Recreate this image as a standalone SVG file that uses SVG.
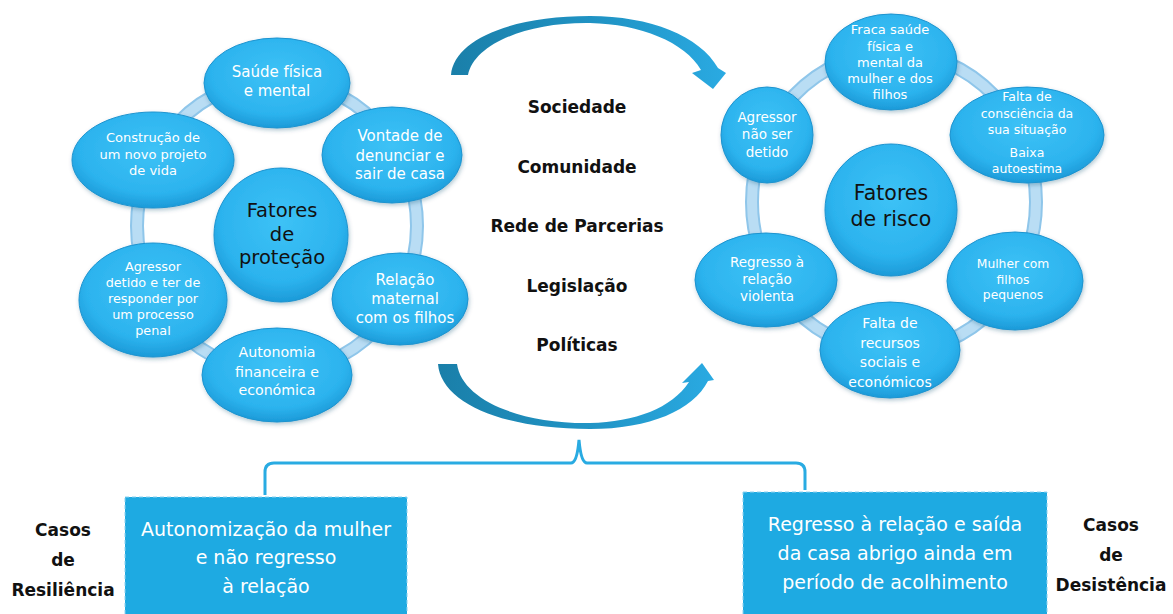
<svg xmlns="http://www.w3.org/2000/svg" width="1173" height="614" viewBox="0 0 1173 614">
<defs>
<radialGradient id="gN" cx="50%" cy="40%" r="60%">
<stop offset="0" stop-color="#3dc2f6"/>
<stop offset="0.75" stop-color="#2cb3ee"/>
<stop offset="1" stop-color="#1c9ad8"/>
</radialGradient>
<linearGradient id="gTop" x1="0" y1="0" x2="1" y2="0">
<stop offset="0" stop-color="#1a7fa9"/>
<stop offset="0.6" stop-color="#2196c8"/>
<stop offset="1" stop-color="#2aaae2"/>
</linearGradient>
<linearGradient id="gBot" x1="0" y1="0" x2="1" y2="0">
<stop offset="0" stop-color="#1a7fa9"/>
<stop offset="0.6" stop-color="#2196c8"/>
<stop offset="1" stop-color="#2aaae2"/>
</linearGradient>
<filter id="sh" x="-20%" y="-20%" width="140%" height="150%">
<feDropShadow dx="1" dy="2" stdDeviation="2" flood-color="#0a4a6a" flood-opacity="0.3"/>
</filter>
</defs>
<style>
.node{fill:url(#gN);stroke:#1d93cf;stroke-width:1;filter:url(#sh)}
.ringo{fill:none;stroke:#8fc6ea;stroke-width:14}
.ringi{fill:none;stroke:#b9ddf4;stroke-width:10}
.t{font-family:"DejaVu Sans","Liberation Sans",sans-serif;fill:#ffffff;text-anchor:middle}
.c{font-family:"DejaVu Sans","Liberation Sans",sans-serif;fill:#111111;text-anchor:middle}
.b{font-family:"DejaVu Sans","Liberation Sans",sans-serif;font-weight:bold;fill:#111111;text-anchor:middle}
.box{fill:#1eaae2;stroke:#8cd2f0;stroke-width:1;stroke-dasharray:4 3}
.brace{fill:none;stroke:#29abe2;stroke-width:3}
</style>
<rect width="1173" height="614" fill="#ffffff"/>

<g id="connectors">
<ellipse class="ringo" cx="277" cy="226" rx="140" ry="146"/>
<ellipse class="ringi" cx="277" cy="226" rx="140" ry="146"/>
<ellipse class="ringo" cx="894" cy="202" rx="142" ry="150"/>
<ellipse class="ringi" cx="894" cy="202" rx="142" ry="150"/>
<path fill="url(#gTop)" d="M451,75 C454,40 510,16 590,16 C650,16 700,36 718,68 L726,73 L713,89 L692,73 L701,70 C685,42 640,24 590,23 C525,22 474,45 468,75 Z"/>
<path fill="url(#gBot)" d="M438,364 C441,402 500,429 590,429 C650,429 693,410 708,381 L714,380 L702,363 L682,383 L689,382 C672,408 635,422 590,423 C520,424 462,400 457,364 Z"/>
<path class="brace" d="M265,495 L265,472 Q265,463 274,463 L571,463 Q577,463 579,440 Q581,463 587,463 L796,463 Q805,463 805,472 L805,490"/>
</g>

<g id="protecao-centro">
<circle class="node" cx="281" cy="235" r="67"/>
<text class="c" font-size="19.5"><tspan x="282" y="217">Fatores</tspan><tspan x="282" y="241">de</tspan><tspan x="282" y="264">proteção</tspan></text>
</g>
<g id="saude">
<ellipse class="node" cx="277" cy="83" rx="73" ry="45"/>
<text class="t" font-size="15"><tspan x="277" y="77">Saúde física</tspan><tspan x="277" y="96">e mental</tspan></text>
</g>
<g id="vontade">
<ellipse class="node" cx="392" cy="155" rx="70" ry="48"/>
<text class="t" font-size="15"><tspan x="400" y="141">Vontade de</tspan><tspan x="400" y="161">denunciar e</tspan><tspan x="400" y="179">sair de casa</tspan></text>
</g>
<g id="relacao">
<ellipse class="node" cx="400" cy="299" rx="68" ry="46"/>
<text class="t" font-size="15"><tspan x="405" y="285">Relação</tspan><tspan x="405" y="304">maternal</tspan><tspan x="405" y="323">com os filhos</tspan></text>
</g>
<g id="autonomia">
<ellipse class="node" cx="277" cy="375" rx="75" ry="47"/>
<text class="t" font-size="14.2"><tspan x="277" y="357">Autonomia</tspan><tspan x="277" y="377">financeira e</tspan><tspan x="277" y="395">económica</tspan></text>
</g>
<g id="agressor-detido">
<ellipse class="node" cx="153" cy="300" rx="74" ry="57"/>
<text class="t" font-size="12.8"><tspan x="153" y="271">Agressor</tspan><tspan x="153" y="287">detido e ter de</tspan><tspan x="153" y="303">responder por</tspan><tspan x="153" y="319">um processo</tspan><tspan x="153" y="335">penal</tspan></text>
</g>
<g id="construcao">
<ellipse class="node" cx="153" cy="160" rx="81" ry="48"/>
<text class="t" font-size="13"><tspan x="153" y="142">Construção de</tspan><tspan x="153" y="159">um novo projeto</tspan><tspan x="153" y="175">de vida</tspan></text>
</g>

<g id="risco-centro">
<circle class="node" cx="891" cy="210" r="66"/>
<text class="c" font-size="20.5"><tspan x="891" y="200">Fatores</tspan><tspan x="891" y="226">de risco</tspan></text>
</g>
<g id="fraca-saude">
<ellipse class="node" cx="891" cy="62" rx="66" ry="48"/>
<text class="t" font-size="13"><tspan x="890" y="34">Fraca saúde</tspan><tspan x="890" y="51">física e</tspan><tspan x="890" y="67">mental da</tspan><tspan x="890" y="83">mulher e dos</tspan><tspan x="890" y="99">filhos</tspan></text>
</g>
<g id="falta-consciencia">
<ellipse class="node" cx="1027" cy="135" rx="77" ry="48"/>
<text class="t" font-size="12.5"><tspan x="1027" y="101">Falta de</tspan><tspan x="1027" y="118">consciência da</tspan><tspan x="1027" y="134">sua situação</tspan><tspan x="1027" y="157">Baixa</tspan><tspan x="1027" y="173">autoestima</tspan></text>
</g>
<g id="mulher-filhos">
<ellipse class="node" cx="1015" cy="281" rx="68" ry="49"/>
<text class="t" font-size="12.3"><tspan x="1013" y="268">Mulher com</tspan><tspan x="1013" y="284">filhos</tspan><tspan x="1013" y="299">pequenos</tspan></text>
</g>
<g id="falta-recursos">
<ellipse class="node" cx="890" cy="350" rx="70" ry="48"/>
<text class="t" font-size="14"><tspan x="890" y="328">Falta de</tspan><tspan x="890" y="348">recursos</tspan><tspan x="890" y="367">sociais e</tspan><tspan x="890" y="387">económicos</tspan></text>
</g>
<g id="regresso-violenta">
<ellipse class="node" cx="766" cy="280" rx="71" ry="47"/>
<text class="t" font-size="13.5"><tspan x="767" y="267">Regresso à</tspan><tspan x="767" y="284">relação</tspan><tspan x="767" y="301">violenta</tspan></text>
</g>
<g id="agressor-nao-detido">
<ellipse class="node" cx="767" cy="135" rx="46" ry="48"/>
<text class="t" font-size="13.5"><tspan x="767" y="122">Agressor</tspan><tspan x="767" y="139">não ser</tspan><tspan x="767" y="157">detido</tspan></text>
</g>

<g id="contexto">
<text class="b" font-size="17" x="577" y="113">Sociedade</text>
<text class="b" font-size="17" x="577" y="173">Comunidade</text>
<text class="b" font-size="17" x="577" y="232">Rede de Parcerias</text>
<text class="b" font-size="17" x="577" y="292">Legislação</text>
<text class="b" font-size="17" x="577" y="351">Políticas</text>
</g>

<g id="resiliencia">
<rect class="box" x="125" y="497" width="282" height="130"/>
<text class="t" font-size="19"><tspan x="266" y="536">Autonomização da mulher</tspan><tspan x="266" y="564">e não regresso</tspan><tspan x="266" y="593">à relação</tspan></text>
<text class="b" font-size="17"><tspan x="63" y="536">Casos</tspan><tspan x="63" y="566">de</tspan><tspan x="63" y="596">Resiliência</tspan></text>
</g>
<g id="desistencia">
<rect class="box" x="743" y="492" width="304" height="135"/>
<text class="t" font-size="19"><tspan x="895" y="531">Regresso à relação e saída</tspan><tspan x="895" y="560">da casa abrigo ainda em</tspan><tspan x="895" y="589">período de acolhimento</tspan></text>
<text class="b" font-size="17"><tspan x="1111" y="531">Casos</tspan><tspan x="1111" y="561">de</tspan><tspan x="1111" y="591">Desistência</tspan></text>
</g>
</svg>
